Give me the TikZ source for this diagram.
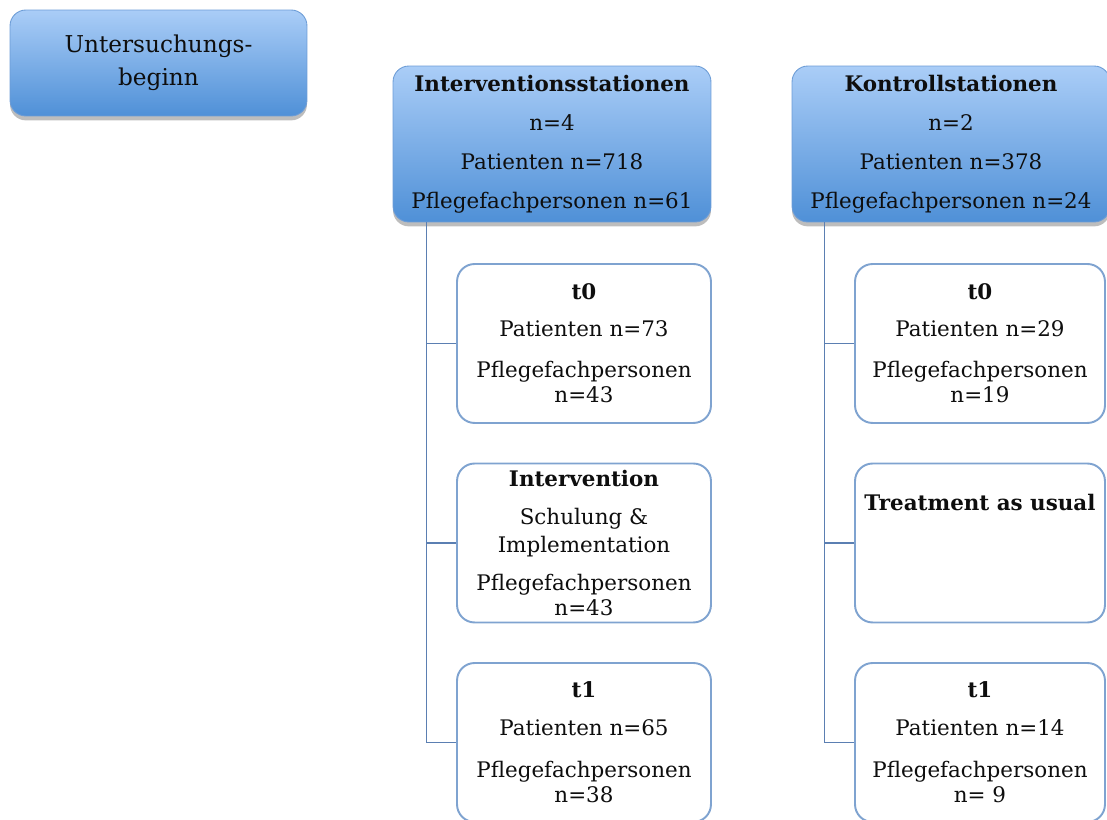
\documentclass[tikz,border=0pt]{standalone}
\usepackage{fontspec}
\setmainfont{DejaVu Serif}
\usetikzlibrary{positioning, shadows}
\definecolor{hdtop}{HTML}{AACDF7}
\definecolor{hdbot}{HTML}{4F90D7}
\definecolor{hdline}{HTML}{6C9CD6}
\definecolor{boxline}{HTML}{7FA3D0}
\definecolor{treeline}{HTML}{5B7FB2}
\definecolor{tdark}{HTML}{0E0E0E}
\tikzset{
  headbox/.style={draw=hdline, line width=0.5pt, top color=hdtop, bottom color=hdbot,
                  rounded corners=9pt, align=center, text=tdark, inner sep=0pt,
                  drop shadow={shadow xshift=0pt, shadow yshift=-2.5pt, opacity=0.4, fill=black!65}},
  stepbox/.style={draw=boxline, line width=1.1pt, fill=white, rounded corners=10pt,
                  minimum height=3.18cm, align=center, text=tdark, inner sep=0pt,
                  font=\fontsize{12.2}{14.4}\selectfont},
  branch/.style={treeline, line width=0.95pt},
}

\begin{document}
\begin{tikzpicture}[x=0.02cm, y=-0.02cm]
  \useasboundingbox (0,0) rectangle (1107,820);
  \clip (0,0) rectangle (1107,820);

  %% ── Start ──
  \node[headbox, minimum width=5.94cm, minimum height=2.12cm,
        font=\fontsize{13.2}{18.8}\selectfont] (start) at (158.5,63)
    {Untersuchungs-\\beginn};

  %% ── Stations ──
  \node[headbox, minimum width=6.36cm, minimum height=3.12cm,
        font=\fontsize{12.2}{22.2}\selectfont] (interv) at (552,144)
    {\textbf{Interventionsstationen}\\n=4\\Patienten n=718\\Pflegefachpersonen n=61};
  \node[headbox, minimum width=6.36cm, minimum height=3.12cm,
        font=\fontsize{12.2}{22.2}\selectfont] (kontr) at (951,144)
    {\textbf{Kontrollstationen}\\n=2\\Patienten n=378\\Pflegefachpersonen n=24};

  %% ── Intervention arm ──
  \node[stepbox, minimum width=5.08cm] (it0) at (584,343.5)
    {\textbf{t0}\\[6.5pt]Patienten n=73\\[8.8pt]Pflegefachpersonen\\n=43};
  \node[stepbox, minimum width=5.08cm] (iint) at (584,543)
    {\textbf{Intervention}\\[7.7pt]Schulung \&\\[1.4pt]Implementation\\[7.1pt]Pflegefachpersonen\\n=43};
  \node[stepbox, minimum width=5.08cm] (it1) at (584,742.5)
    {\textbf{t1}\\[7pt]Patienten n=65\\[9.4pt]Pflegefachpersonen\\n=38};

  %% ── Control arm ──
  \node[stepbox, minimum width=5.0cm] (kt0) at (980,343.5)
    {\textbf{t0}\\[6.5pt]Patienten n=29\\[8.8pt]Pflegefachpersonen\\n=19};
  \node[stepbox, minimum width=5.0cm,
        label={[font=\fontsize{12.2}{14.4}\selectfont\bfseries, text=tdark, anchor=north,
                yshift=-0.5cm]north:Treatment as usual}] (ktau) at (980,543) {};
  \node[stepbox, minimum width=5.0cm] (kt1) at (980,742.5)
    {\textbf{t1}\\[7pt]Patienten n=14\\[9.4pt]Pflegefachpersonen\\n= 9};

  %% ── Tree lines ──
  \coordinate (ltrunk) at ([xshift=0.68cm]interv.south west);
  \coordinate (rtrunk) at ([xshift=0.66cm]kontr.south west);
  \draw[branch] (ltrunk) |- (it1.west);
  \draw[branch] (rtrunk) |- (kt1.west);
  \foreach \n in {it0,iint} \draw[branch] (\n.west) -- (\n.west -| ltrunk);
  \foreach \n in {kt0,ktau} \draw[branch] (\n.west) -- (\n.west -| rtrunk);
\end{tikzpicture}
\end{document}
